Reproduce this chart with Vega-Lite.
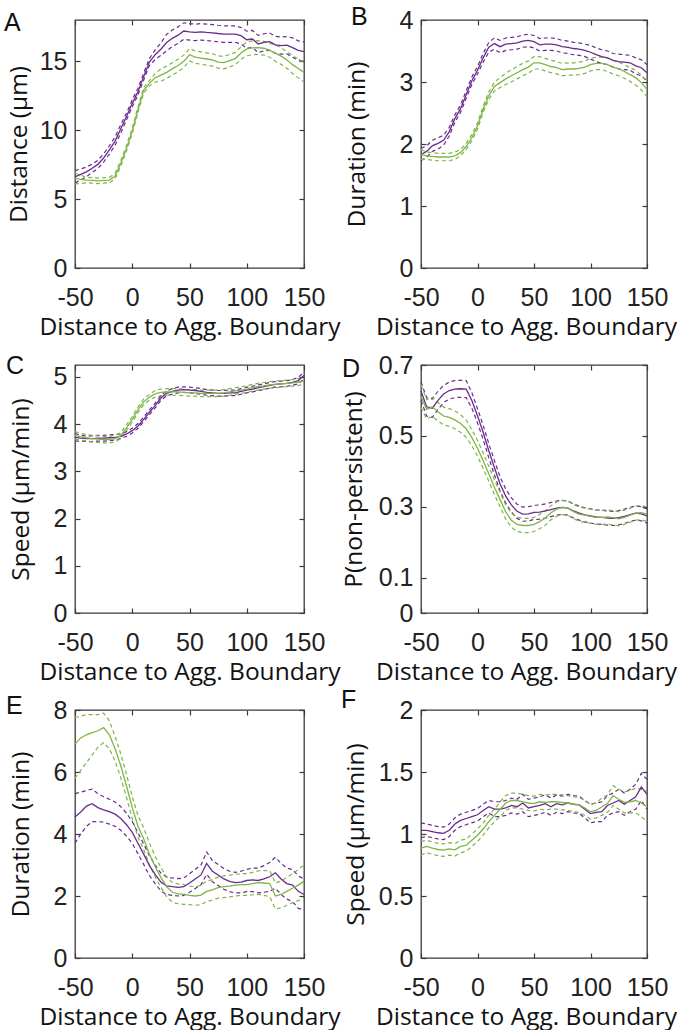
{
"$schema": "https://vega.github.io/schema/vega-lite/v6.json",
"background": "white",
"padding": {"left": 3, "top": 4, "right": 0, "bottom": 0},
"config": {
  "view": {"stroke": "#3a3a3a", "strokeWidth": 1.3},
  "axis": {"domain": false, "grid": false, "tickColor": "#3a3a3a", "tickSize": -5, "tickWidth": 1.2,
           "labelFont": "Liberation Sans", "labelFontSize": 25, "labelColor": "#222", "labelPadding": 13,
           "labelFlush": false, "labelOverlap": false,
           "titleFont": "Open Sans", "titleFontSize": 24.5, "titleFontWeight": "normal", "titleColor": "#111", "titlePadding": 10, "format": "~g"},
  "axisBottom": {"labelPadding": 22, "titlePadding": 5, "labelExpr": "'' + datum.value"},
  "title": {"font": "Liberation Sans", "fontSize": 25, "fontWeight": "normal", "anchor": "start", "frame": "group", "color": "#111", "baseline": "alphabetic"},
  "line": {"clip": true}
},
"datasets": {"d": [
{"p":"A","g":"P","x":-50,"m":6.62,"lo":6.17,"hi":7.07},
{"p":"A","g":"P","x":-45,"m":6.79,"lo":6.39,"hi":7.19},
{"p":"A","g":"P","x":-40,"m":6.98,"lo":6.63,"hi":7.33},
{"p":"A","g":"P","x":-35,"m":7.24,"lo":6.94,"hi":7.54},
{"p":"A","g":"P","x":-30,"m":7.52,"lo":7.22,"hi":7.82},
{"p":"A","g":"P","x":-25,"m":7.98,"lo":7.68,"hi":8.28},
{"p":"A","g":"P","x":-20,"m":8.57,"lo":8.27,"hi":8.87},
{"p":"A","g":"P","x":-15,"m":9.21,"lo":8.91,"hi":9.51},
{"p":"A","g":"P","x":-10,"m":10.1,"lo":9.8,"hi":10.4},
{"p":"A","g":"P","x":-5,"m":11.0,"lo":10.75,"hi":11.25},
{"p":"A","g":"P","x":0,"m":11.95,"lo":11.7,"hi":12.2},
{"p":"A","g":"P","x":5,"m":12.8,"lo":12.55,"hi":13.05},
{"p":"A","g":"P","x":10,"m":13.9,"lo":13.65,"hi":14.15},
{"p":"A","g":"P","x":15,"m":14.95,"lo":14.7,"hi":15.2},
{"p":"A","g":"P","x":20,"m":15.48,"lo":15.13,"hi":15.83},
{"p":"A","g":"P","x":25,"m":15.88,"lo":15.43,"hi":16.33},
{"p":"A","g":"P","x":30,"m":16.36,"lo":15.76,"hi":16.96},
{"p":"A","g":"P","x":35,"m":16.67,"lo":16.07,"hi":17.27},
{"p":"A","g":"P","x":40,"m":16.9,"lo":16.3,"hi":17.5},
{"p":"A","g":"P","x":45,"m":17.2,"lo":16.6,"hi":17.8},
{"p":"A","g":"P","x":50,"m":17.14,"lo":16.54,"hi":17.74},
{"p":"A","g":"P","x":55,"m":17.1,"lo":16.5,"hi":17.7},
{"p":"A","g":"P","x":60,"m":17.14,"lo":16.54,"hi":17.74},
{"p":"A","g":"P","x":65,"m":17.1,"lo":16.5,"hi":17.7},
{"p":"A","g":"P","x":70,"m":17.07,"lo":16.47,"hi":17.67},
{"p":"A","g":"P","x":75,"m":17.02,"lo":16.42,"hi":17.62},
{"p":"A","g":"P","x":80,"m":16.98,"lo":16.38,"hi":17.58},
{"p":"A","g":"P","x":85,"m":16.98,"lo":16.38,"hi":17.58},
{"p":"A","g":"P","x":90,"m":16.98,"lo":16.38,"hi":17.58},
{"p":"A","g":"P","x":95,"m":16.86,"lo":16.26,"hi":17.46},
{"p":"A","g":"P","x":100,"m":16.57,"lo":15.95,"hi":17.19},
{"p":"A","g":"P","x":105,"m":16.62,"lo":16.0,"hi":17.24},
{"p":"A","g":"P","x":110,"m":16.26,"lo":15.64,"hi":16.88},
{"p":"A","g":"P","x":115,"m":16.38,"lo":15.76,"hi":17.0},
{"p":"A","g":"P","x":120,"m":16.43,"lo":15.81,"hi":17.05},
{"p":"A","g":"P","x":125,"m":16.2,"lo":15.58,"hi":16.82},
{"p":"A","g":"P","x":130,"m":16.14,"lo":15.52,"hi":16.76},
{"p":"A","g":"P","x":135,"m":16.17,"lo":15.55,"hi":16.79},
{"p":"A","g":"P","x":140,"m":16.0,"lo":15.3,"hi":16.7},
{"p":"A","g":"P","x":145,"m":15.79,"lo":15.09,"hi":16.49},
{"p":"A","g":"P","x":150,"m":15.71,"lo":15.01,"hi":16.41},
{"p":"A","g":"G","x":-50,"m":6.5,"lo":6.1,"hi":6.9},
{"p":"A","g":"G","x":-45,"m":6.43,"lo":6.13,"hi":6.73},
{"p":"A","g":"G","x":-40,"m":6.38,"lo":6.18,"hi":6.58},
{"p":"A","g":"G","x":-35,"m":6.36,"lo":6.16,"hi":6.56},
{"p":"A","g":"G","x":-30,"m":6.33,"lo":6.13,"hi":6.53},
{"p":"A","g":"G","x":-25,"m":6.36,"lo":6.16,"hi":6.56},
{"p":"A","g":"G","x":-20,"m":6.38,"lo":6.18,"hi":6.58},
{"p":"A","g":"G","x":-15,"m":6.67,"lo":6.47,"hi":6.87},
{"p":"A","g":"G","x":-10,"m":7.6,"lo":7.4,"hi":7.8},
{"p":"A","g":"G","x":-5,"m":8.7,"lo":8.5,"hi":8.9},
{"p":"A","g":"G","x":0,"m":9.95,"lo":9.75,"hi":10.15},
{"p":"A","g":"G","x":5,"m":11.5,"lo":11.3,"hi":11.7},
{"p":"A","g":"G","x":10,"m":12.9,"lo":12.7,"hi":13.1},
{"p":"A","g":"G","x":15,"m":13.4,"lo":13.2,"hi":13.6},
{"p":"A","g":"G","x":20,"m":13.8,"lo":13.5,"hi":14.1},
{"p":"A","g":"G","x":25,"m":14.0,"lo":13.55,"hi":14.45},
{"p":"A","g":"G","x":30,"m":14.2,"lo":13.75,"hi":14.65},
{"p":"A","g":"G","x":35,"m":14.45,"lo":14.0,"hi":14.9},
{"p":"A","g":"G","x":40,"m":14.7,"lo":14.25,"hi":15.15},
{"p":"A","g":"G","x":45,"m":15.0,"lo":14.55,"hi":15.45},
{"p":"A","g":"G","x":50,"m":15.48,"lo":15.03,"hi":15.93},
{"p":"A","g":"G","x":55,"m":15.3,"lo":14.85,"hi":15.75},
{"p":"A","g":"G","x":60,"m":15.24,"lo":14.79,"hi":15.69},
{"p":"A","g":"G","x":65,"m":15.17,"lo":14.72,"hi":15.62},
{"p":"A","g":"G","x":70,"m":15.1,"lo":14.65,"hi":15.55},
{"p":"A","g":"G","x":75,"m":14.95,"lo":14.5,"hi":15.4},
{"p":"A","g":"G","x":80,"m":14.9,"lo":14.45,"hi":15.35},
{"p":"A","g":"G","x":85,"m":15.05,"lo":14.6,"hi":15.5},
{"p":"A","g":"G","x":90,"m":15.2,"lo":14.75,"hi":15.65},
{"p":"A","g":"G","x":95,"m":15.6,"lo":15.15,"hi":16.05},
{"p":"A","g":"G","x":100,"m":15.9,"lo":15.4,"hi":16.4},
{"p":"A","g":"G","x":105,"m":15.98,"lo":15.48,"hi":16.48},
{"p":"A","g":"G","x":110,"m":16.0,"lo":15.5,"hi":16.5},
{"p":"A","g":"G","x":115,"m":15.95,"lo":15.45,"hi":16.45},
{"p":"A","g":"G","x":120,"m":15.8,"lo":15.3,"hi":16.3},
{"p":"A","g":"G","x":125,"m":15.6,"lo":15.0,"hi":16.2},
{"p":"A","g":"G","x":130,"m":15.38,"lo":14.78,"hi":15.98},
{"p":"A","g":"G","x":135,"m":15.1,"lo":14.5,"hi":15.7},
{"p":"A","g":"G","x":140,"m":14.76,"lo":14.11,"hi":15.41},
{"p":"A","g":"G","x":145,"m":14.48,"lo":13.8,"hi":15.16},
{"p":"A","g":"G","x":150,"m":14.2,"lo":13.5,"hi":14.9},
{"p":"B","g":"P","x":-50,"m":1.83,"lo":1.73,"hi":1.93},
{"p":"B","g":"P","x":-45,"m":1.88,"lo":1.79,"hi":1.97},
{"p":"B","g":"P","x":-40,"m":1.97,"lo":1.88,"hi":2.06},
{"p":"B","g":"P","x":-35,"m":2.01,"lo":1.92,"hi":2.1},
{"p":"B","g":"P","x":-30,"m":2.06,"lo":1.98,"hi":2.14},
{"p":"B","g":"P","x":-25,"m":2.2,"lo":2.13,"hi":2.27},
{"p":"B","g":"P","x":-20,"m":2.41,"lo":2.35,"hi":2.47},
{"p":"B","g":"P","x":-15,"m":2.57,"lo":2.51,"hi":2.63},
{"p":"B","g":"P","x":-10,"m":2.8,"lo":2.74,"hi":2.86},
{"p":"B","g":"P","x":-5,"m":3.02,"lo":2.96,"hi":3.08},
{"p":"B","g":"P","x":0,"m":3.19,"lo":3.13,"hi":3.25},
{"p":"B","g":"P","x":5,"m":3.39,"lo":3.32,"hi":3.46},
{"p":"B","g":"P","x":10,"m":3.56,"lo":3.48,"hi":3.64},
{"p":"B","g":"P","x":15,"m":3.62,"lo":3.53,"hi":3.71},
{"p":"B","g":"P","x":20,"m":3.57,"lo":3.47,"hi":3.67},
{"p":"B","g":"P","x":25,"m":3.61,"lo":3.51,"hi":3.71},
{"p":"B","g":"P","x":30,"m":3.62,"lo":3.52,"hi":3.72},
{"p":"B","g":"P","x":35,"m":3.63,"lo":3.53,"hi":3.73},
{"p":"B","g":"P","x":40,"m":3.66,"lo":3.56,"hi":3.76},
{"p":"B","g":"P","x":45,"m":3.67,"lo":3.57,"hi":3.77},
{"p":"B","g":"P","x":50,"m":3.65,"lo":3.55,"hi":3.75},
{"p":"B","g":"P","x":55,"m":3.6,"lo":3.5,"hi":3.7},
{"p":"B","g":"P","x":60,"m":3.61,"lo":3.51,"hi":3.71},
{"p":"B","g":"P","x":65,"m":3.61,"lo":3.51,"hi":3.71},
{"p":"B","g":"P","x":70,"m":3.6,"lo":3.5,"hi":3.7},
{"p":"B","g":"P","x":75,"m":3.57,"lo":3.47,"hi":3.67},
{"p":"B","g":"P","x":80,"m":3.56,"lo":3.46,"hi":3.66},
{"p":"B","g":"P","x":85,"m":3.54,"lo":3.44,"hi":3.64},
{"p":"B","g":"P","x":90,"m":3.53,"lo":3.43,"hi":3.63},
{"p":"B","g":"P","x":95,"m":3.51,"lo":3.41,"hi":3.61},
{"p":"B","g":"P","x":100,"m":3.48,"lo":3.37,"hi":3.59},
{"p":"B","g":"P","x":105,"m":3.44,"lo":3.33,"hi":3.55},
{"p":"B","g":"P","x":110,"m":3.41,"lo":3.3,"hi":3.52},
{"p":"B","g":"P","x":115,"m":3.39,"lo":3.28,"hi":3.5},
{"p":"B","g":"P","x":120,"m":3.35,"lo":3.24,"hi":3.46},
{"p":"B","g":"P","x":125,"m":3.33,"lo":3.21,"hi":3.45},
{"p":"B","g":"P","x":130,"m":3.32,"lo":3.2,"hi":3.44},
{"p":"B","g":"P","x":135,"m":3.31,"lo":3.19,"hi":3.43},
{"p":"B","g":"P","x":140,"m":3.26,"lo":3.13,"hi":3.39},
{"p":"B","g":"P","x":145,"m":3.23,"lo":3.1,"hi":3.36},
{"p":"B","g":"P","x":150,"m":3.15,"lo":3.02,"hi":3.28},
{"p":"B","g":"G","x":-50,"m":1.83,"lo":1.75,"hi":1.91},
{"p":"B","g":"G","x":-45,"m":1.81,"lo":1.75,"hi":1.87},
{"p":"B","g":"G","x":-40,"m":1.8,"lo":1.74,"hi":1.86},
{"p":"B","g":"G","x":-35,"m":1.79,"lo":1.73,"hi":1.85},
{"p":"B","g":"G","x":-30,"m":1.79,"lo":1.73,"hi":1.85},
{"p":"B","g":"G","x":-25,"m":1.79,"lo":1.73,"hi":1.85},
{"p":"B","g":"G","x":-20,"m":1.81,"lo":1.75,"hi":1.87},
{"p":"B","g":"G","x":-15,"m":1.86,"lo":1.81,"hi":1.91},
{"p":"B","g":"G","x":-10,"m":1.96,"lo":1.91,"hi":2.01},
{"p":"B","g":"G","x":-5,"m":2.1,"lo":2.05,"hi":2.15},
{"p":"B","g":"G","x":0,"m":2.29,"lo":2.24,"hi":2.34},
{"p":"B","g":"G","x":5,"m":2.56,"lo":2.51,"hi":2.61},
{"p":"B","g":"G","x":10,"m":2.78,"lo":2.72,"hi":2.84},
{"p":"B","g":"G","x":15,"m":2.93,"lo":2.86,"hi":3.0},
{"p":"B","g":"G","x":20,"m":2.99,"lo":2.91,"hi":3.07},
{"p":"B","g":"G","x":25,"m":3.05,"lo":2.96,"hi":3.14},
{"p":"B","g":"G","x":30,"m":3.1,"lo":3.0,"hi":3.2},
{"p":"B","g":"G","x":35,"m":3.15,"lo":3.05,"hi":3.25},
{"p":"B","g":"G","x":40,"m":3.2,"lo":3.1,"hi":3.3},
{"p":"B","g":"G","x":45,"m":3.24,"lo":3.14,"hi":3.34},
{"p":"B","g":"G","x":50,"m":3.31,"lo":3.21,"hi":3.41},
{"p":"B","g":"G","x":55,"m":3.31,"lo":3.21,"hi":3.41},
{"p":"B","g":"G","x":60,"m":3.28,"lo":3.18,"hi":3.38},
{"p":"B","g":"G","x":65,"m":3.25,"lo":3.15,"hi":3.35},
{"p":"B","g":"G","x":70,"m":3.23,"lo":3.13,"hi":3.33},
{"p":"B","g":"G","x":75,"m":3.2,"lo":3.1,"hi":3.3},
{"p":"B","g":"G","x":80,"m":3.21,"lo":3.11,"hi":3.31},
{"p":"B","g":"G","x":85,"m":3.21,"lo":3.11,"hi":3.31},
{"p":"B","g":"G","x":90,"m":3.22,"lo":3.12,"hi":3.32},
{"p":"B","g":"G","x":95,"m":3.24,"lo":3.14,"hi":3.34},
{"p":"B","g":"G","x":100,"m":3.28,"lo":3.18,"hi":3.38},
{"p":"B","g":"G","x":105,"m":3.3,"lo":3.2,"hi":3.4},
{"p":"B","g":"G","x":110,"m":3.3,"lo":3.2,"hi":3.4},
{"p":"B","g":"G","x":115,"m":3.28,"lo":3.17,"hi":3.39},
{"p":"B","g":"G","x":120,"m":3.24,"lo":3.13,"hi":3.35},
{"p":"B","g":"G","x":125,"m":3.21,"lo":3.1,"hi":3.32},
{"p":"B","g":"G","x":130,"m":3.17,"lo":3.06,"hi":3.28},
{"p":"B","g":"G","x":135,"m":3.12,"lo":3.01,"hi":3.23},
{"p":"B","g":"G","x":140,"m":3.07,"lo":2.95,"hi":3.19},
{"p":"B","g":"G","x":145,"m":2.99,"lo":2.87,"hi":3.11},
{"p":"B","g":"G","x":150,"m":2.88,"lo":2.76,"hi":3.0},
{"p":"C","g":"P","x":-50,"m":3.72,"lo":3.64,"hi":3.8},
{"p":"C","g":"P","x":-45,"m":3.7,"lo":3.64,"hi":3.76},
{"p":"C","g":"P","x":-40,"m":3.69,"lo":3.63,"hi":3.75},
{"p":"C","g":"P","x":-35,"m":3.69,"lo":3.63,"hi":3.75},
{"p":"C","g":"P","x":-30,"m":3.7,"lo":3.64,"hi":3.76},
{"p":"C","g":"P","x":-25,"m":3.7,"lo":3.64,"hi":3.76},
{"p":"C","g":"P","x":-20,"m":3.71,"lo":3.65,"hi":3.77},
{"p":"C","g":"P","x":-15,"m":3.72,"lo":3.66,"hi":3.78},
{"p":"C","g":"P","x":-10,"m":3.74,"lo":3.69,"hi":3.79},
{"p":"C","g":"P","x":-5,"m":3.79,"lo":3.74,"hi":3.84},
{"p":"C","g":"P","x":0,"m":3.86,"lo":3.81,"hi":3.91},
{"p":"C","g":"P","x":5,"m":3.96,"lo":3.91,"hi":4.01},
{"p":"C","g":"P","x":10,"m":4.1,"lo":4.05,"hi":4.15},
{"p":"C","g":"P","x":15,"m":4.25,"lo":4.2,"hi":4.3},
{"p":"C","g":"P","x":20,"m":4.39,"lo":4.34,"hi":4.44},
{"p":"C","g":"P","x":25,"m":4.55,"lo":4.5,"hi":4.6},
{"p":"C","g":"P","x":30,"m":4.65,"lo":4.6,"hi":4.7},
{"p":"C","g":"P","x":35,"m":4.69,"lo":4.63,"hi":4.75},
{"p":"C","g":"P","x":40,"m":4.72,"lo":4.66,"hi":4.78},
{"p":"C","g":"P","x":45,"m":4.73,"lo":4.67,"hi":4.79},
{"p":"C","g":"P","x":50,"m":4.72,"lo":4.66,"hi":4.78},
{"p":"C","g":"P","x":55,"m":4.71,"lo":4.65,"hi":4.77},
{"p":"C","g":"P","x":60,"m":4.69,"lo":4.63,"hi":4.75},
{"p":"C","g":"P","x":65,"m":4.67,"lo":4.61,"hi":4.73},
{"p":"C","g":"P","x":70,"m":4.66,"lo":4.6,"hi":4.72},
{"p":"C","g":"P","x":75,"m":4.65,"lo":4.59,"hi":4.71},
{"p":"C","g":"P","x":80,"m":4.65,"lo":4.59,"hi":4.71},
{"p":"C","g":"P","x":85,"m":4.66,"lo":4.6,"hi":4.72},
{"p":"C","g":"P","x":90,"m":4.66,"lo":4.6,"hi":4.72},
{"p":"C","g":"P","x":95,"m":4.69,"lo":4.63,"hi":4.75},
{"p":"C","g":"P","x":100,"m":4.72,"lo":4.66,"hi":4.78},
{"p":"C","g":"P","x":105,"m":4.74,"lo":4.68,"hi":4.8},
{"p":"C","g":"P","x":110,"m":4.77,"lo":4.71,"hi":4.83},
{"p":"C","g":"P","x":115,"m":4.79,"lo":4.73,"hi":4.85},
{"p":"C","g":"P","x":120,"m":4.82,"lo":4.76,"hi":4.88},
{"p":"C","g":"P","x":125,"m":4.84,"lo":4.78,"hi":4.9},
{"p":"C","g":"P","x":130,"m":4.85,"lo":4.79,"hi":4.91},
{"p":"C","g":"P","x":135,"m":4.86,"lo":4.8,"hi":4.92},
{"p":"C","g":"P","x":140,"m":4.88,"lo":4.82,"hi":4.94},
{"p":"C","g":"P","x":145,"m":4.92,"lo":4.85,"hi":4.99},
{"p":"C","g":"P","x":150,"m":5.03,"lo":4.96,"hi":5.1},
{"p":"C","g":"G","x":-50,"m":3.76,"lo":3.68,"hi":3.84},
{"p":"C","g":"G","x":-45,"m":3.73,"lo":3.66,"hi":3.8},
{"p":"C","g":"G","x":-40,"m":3.71,"lo":3.64,"hi":3.78},
{"p":"C","g":"G","x":-35,"m":3.69,"lo":3.62,"hi":3.76},
{"p":"C","g":"G","x":-30,"m":3.68,"lo":3.61,"hi":3.75},
{"p":"C","g":"G","x":-25,"m":3.67,"lo":3.6,"hi":3.74},
{"p":"C","g":"G","x":-20,"m":3.67,"lo":3.6,"hi":3.74},
{"p":"C","g":"G","x":-15,"m":3.69,"lo":3.62,"hi":3.76},
{"p":"C","g":"G","x":-10,"m":3.76,"lo":3.7,"hi":3.82},
{"p":"C","g":"G","x":-5,"m":3.92,"lo":3.86,"hi":3.98},
{"p":"C","g":"G","x":0,"m":4.1,"lo":4.04,"hi":4.16},
{"p":"C","g":"G","x":5,"m":4.3,"lo":4.24,"hi":4.36},
{"p":"C","g":"G","x":10,"m":4.47,"lo":4.41,"hi":4.53},
{"p":"C","g":"G","x":15,"m":4.57,"lo":4.51,"hi":4.63},
{"p":"C","g":"G","x":20,"m":4.64,"lo":4.57,"hi":4.71},
{"p":"C","g":"G","x":25,"m":4.67,"lo":4.6,"hi":4.74},
{"p":"C","g":"G","x":30,"m":4.68,"lo":4.61,"hi":4.75},
{"p":"C","g":"G","x":35,"m":4.68,"lo":4.61,"hi":4.75},
{"p":"C","g":"G","x":40,"m":4.68,"lo":4.61,"hi":4.75},
{"p":"C","g":"G","x":45,"m":4.67,"lo":4.6,"hi":4.74},
{"p":"C","g":"G","x":50,"m":4.66,"lo":4.59,"hi":4.73},
{"p":"C","g":"G","x":55,"m":4.66,"lo":4.59,"hi":4.73},
{"p":"C","g":"G","x":60,"m":4.65,"lo":4.58,"hi":4.72},
{"p":"C","g":"G","x":65,"m":4.65,"lo":4.58,"hi":4.72},
{"p":"C","g":"G","x":70,"m":4.65,"lo":4.58,"hi":4.72},
{"p":"C","g":"G","x":75,"m":4.65,"lo":4.58,"hi":4.72},
{"p":"C","g":"G","x":80,"m":4.66,"lo":4.59,"hi":4.73},
{"p":"C","g":"G","x":85,"m":4.68,"lo":4.61,"hi":4.75},
{"p":"C","g":"G","x":90,"m":4.7,"lo":4.63,"hi":4.77},
{"p":"C","g":"G","x":95,"m":4.72,"lo":4.65,"hi":4.79},
{"p":"C","g":"G","x":100,"m":4.74,"lo":4.67,"hi":4.81},
{"p":"C","g":"G","x":105,"m":4.77,"lo":4.7,"hi":4.84},
{"p":"C","g":"G","x":110,"m":4.79,"lo":4.72,"hi":4.86},
{"p":"C","g":"G","x":115,"m":4.81,"lo":4.74,"hi":4.88},
{"p":"C","g":"G","x":120,"m":4.83,"lo":4.76,"hi":4.9},
{"p":"C","g":"G","x":125,"m":4.84,"lo":4.77,"hi":4.91},
{"p":"C","g":"G","x":130,"m":4.85,"lo":4.78,"hi":4.92},
{"p":"C","g":"G","x":135,"m":4.86,"lo":4.79,"hi":4.93},
{"p":"C","g":"G","x":140,"m":4.87,"lo":4.8,"hi":4.94},
{"p":"C","g":"G","x":145,"m":4.89,"lo":4.82,"hi":4.96},
{"p":"C","g":"G","x":150,"m":4.91,"lo":4.84,"hi":4.98},
{"p":"D","g":"P","x":-50,"m":0.626,"lo":0.6,"hi":0.652},
{"p":"D","g":"P","x":-45,"m":0.582,"lo":0.556,"hi":0.608},
{"p":"D","g":"P","x":-40,"m":0.578,"lo":0.552,"hi":0.604},
{"p":"D","g":"P","x":-35,"m":0.6,"lo":0.574,"hi":0.626},
{"p":"D","g":"P","x":-30,"m":0.618,"lo":0.594,"hi":0.642},
{"p":"D","g":"P","x":-25,"m":0.628,"lo":0.604,"hi":0.652},
{"p":"D","g":"P","x":-20,"m":0.632,"lo":0.608,"hi":0.656},
{"p":"D","g":"P","x":-15,"m":0.633,"lo":0.609,"hi":0.657},
{"p":"D","g":"P","x":-10,"m":0.632,"lo":0.608,"hi":0.656},
{"p":"D","g":"P","x":-5,"m":0.6,"lo":0.578,"hi":0.622},
{"p":"D","g":"P","x":0,"m":0.557,"lo":0.537,"hi":0.577},
{"p":"D","g":"P","x":5,"m":0.51,"lo":0.49,"hi":0.53},
{"p":"D","g":"P","x":10,"m":0.458,"lo":0.438,"hi":0.478},
{"p":"D","g":"P","x":15,"m":0.41,"lo":0.39,"hi":0.43},
{"p":"D","g":"P","x":20,"m":0.364,"lo":0.344,"hi":0.384},
{"p":"D","g":"P","x":25,"m":0.33,"lo":0.31,"hi":0.35},
{"p":"D","g":"P","x":30,"m":0.305,"lo":0.285,"hi":0.325},
{"p":"D","g":"P","x":35,"m":0.287,"lo":0.267,"hi":0.307},
{"p":"D","g":"P","x":40,"m":0.279,"lo":0.259,"hi":0.299},
{"p":"D","g":"P","x":45,"m":0.28,"lo":0.26,"hi":0.3},
{"p":"D","g":"P","x":50,"m":0.284,"lo":0.264,"hi":0.304},
{"p":"D","g":"P","x":55,"m":0.285,"lo":0.265,"hi":0.305},
{"p":"D","g":"P","x":60,"m":0.288,"lo":0.268,"hi":0.308},
{"p":"D","g":"P","x":65,"m":0.292,"lo":0.272,"hi":0.312},
{"p":"D","g":"P","x":70,"m":0.296,"lo":0.276,"hi":0.316},
{"p":"D","g":"P","x":75,"m":0.298,"lo":0.278,"hi":0.318},
{"p":"D","g":"P","x":80,"m":0.296,"lo":0.276,"hi":0.316},
{"p":"D","g":"P","x":85,"m":0.288,"lo":0.268,"hi":0.308},
{"p":"D","g":"P","x":90,"m":0.282,"lo":0.262,"hi":0.302},
{"p":"D","g":"P","x":95,"m":0.277,"lo":0.257,"hi":0.297},
{"p":"D","g":"P","x":100,"m":0.274,"lo":0.254,"hi":0.294},
{"p":"D","g":"P","x":105,"m":0.271,"lo":0.251,"hi":0.291},
{"p":"D","g":"P","x":110,"m":0.27,"lo":0.25,"hi":0.29},
{"p":"D","g":"P","x":115,"m":0.268,"lo":0.248,"hi":0.288},
{"p":"D","g":"P","x":120,"m":0.267,"lo":0.247,"hi":0.287},
{"p":"D","g":"P","x":125,"m":0.269,"lo":0.249,"hi":0.289},
{"p":"D","g":"P","x":130,"m":0.273,"lo":0.253,"hi":0.293},
{"p":"D","g":"P","x":135,"m":0.278,"lo":0.258,"hi":0.298},
{"p":"D","g":"P","x":140,"m":0.282,"lo":0.262,"hi":0.302},
{"p":"D","g":"P","x":145,"m":0.28,"lo":0.26,"hi":0.3},
{"p":"D","g":"P","x":150,"m":0.274,"lo":0.254,"hi":0.294},
{"p":"D","g":"G","x":-50,"m":0.612,"lo":0.58,"hi":0.644},
{"p":"D","g":"G","x":-45,"m":0.575,"lo":0.548,"hi":0.602},
{"p":"D","g":"G","x":-40,"m":0.582,"lo":0.555,"hi":0.609},
{"p":"D","g":"G","x":-35,"m":0.568,"lo":0.542,"hi":0.594},
{"p":"D","g":"G","x":-30,"m":0.556,"lo":0.531,"hi":0.581},
{"p":"D","g":"G","x":-25,"m":0.552,"lo":0.527,"hi":0.577},
{"p":"D","g":"G","x":-20,"m":0.545,"lo":0.52,"hi":0.57},
{"p":"D","g":"G","x":-15,"m":0.535,"lo":0.51,"hi":0.56},
{"p":"D","g":"G","x":-10,"m":0.52,"lo":0.496,"hi":0.544},
{"p":"D","g":"G","x":-5,"m":0.495,"lo":0.472,"hi":0.518},
{"p":"D","g":"G","x":0,"m":0.465,"lo":0.443,"hi":0.487},
{"p":"D","g":"G","x":5,"m":0.43,"lo":0.408,"hi":0.452},
{"p":"D","g":"G","x":10,"m":0.393,"lo":0.372,"hi":0.414},
{"p":"D","g":"G","x":15,"m":0.355,"lo":0.334,"hi":0.376},
{"p":"D","g":"G","x":20,"m":0.32,"lo":0.3,"hi":0.34},
{"p":"D","g":"G","x":25,"m":0.285,"lo":0.265,"hi":0.305},
{"p":"D","g":"G","x":30,"m":0.262,"lo":0.242,"hi":0.282},
{"p":"D","g":"G","x":35,"m":0.25,"lo":0.23,"hi":0.27},
{"p":"D","g":"G","x":40,"m":0.247,"lo":0.227,"hi":0.267},
{"p":"D","g":"G","x":45,"m":0.247,"lo":0.227,"hi":0.267},
{"p":"D","g":"G","x":50,"m":0.25,"lo":0.23,"hi":0.27},
{"p":"D","g":"G","x":55,"m":0.258,"lo":0.238,"hi":0.278},
{"p":"D","g":"G","x":60,"m":0.268,"lo":0.248,"hi":0.288},
{"p":"D","g":"G","x":65,"m":0.283,"lo":0.263,"hi":0.303},
{"p":"D","g":"G","x":70,"m":0.293,"lo":0.273,"hi":0.313},
{"p":"D","g":"G","x":75,"m":0.298,"lo":0.278,"hi":0.318},
{"p":"D","g":"G","x":80,"m":0.296,"lo":0.276,"hi":0.316},
{"p":"D","g":"G","x":85,"m":0.286,"lo":0.266,"hi":0.306},
{"p":"D","g":"G","x":90,"m":0.279,"lo":0.259,"hi":0.299},
{"p":"D","g":"G","x":95,"m":0.276,"lo":0.256,"hi":0.296},
{"p":"D","g":"G","x":100,"m":0.273,"lo":0.253,"hi":0.293},
{"p":"D","g":"G","x":105,"m":0.27,"lo":0.25,"hi":0.29},
{"p":"D","g":"G","x":110,"m":0.27,"lo":0.25,"hi":0.29},
{"p":"D","g":"G","x":115,"m":0.271,"lo":0.251,"hi":0.291},
{"p":"D","g":"G","x":120,"m":0.269,"lo":0.249,"hi":0.289},
{"p":"D","g":"G","x":125,"m":0.266,"lo":0.246,"hi":0.286},
{"p":"D","g":"G","x":130,"m":0.27,"lo":0.25,"hi":0.29},
{"p":"D","g":"G","x":135,"m":0.276,"lo":0.256,"hi":0.296},
{"p":"D","g":"G","x":140,"m":0.282,"lo":0.262,"hi":0.302},
{"p":"D","g":"G","x":145,"m":0.283,"lo":0.263,"hi":0.303},
{"p":"D","g":"G","x":150,"m":0.279,"lo":0.259,"hi":0.299},
{"p":"E","g":"P","x":-50,"m":4.55,"lo":3.7,"hi":5.3},
{"p":"E","g":"P","x":-45,"m":4.71,"lo":4.0,"hi":5.35},
{"p":"E","g":"P","x":-40,"m":4.9,"lo":4.25,"hi":5.4},
{"p":"E","g":"P","x":-35,"m":4.98,"lo":4.4,"hi":5.45},
{"p":"E","g":"P","x":-30,"m":4.85,"lo":4.4,"hi":5.3},
{"p":"E","g":"P","x":-25,"m":4.78,"lo":4.38,"hi":5.2},
{"p":"E","g":"P","x":-20,"m":4.72,"lo":4.32,"hi":5.12},
{"p":"E","g":"P","x":-15,"m":4.64,"lo":4.25,"hi":5.03},
{"p":"E","g":"P","x":-10,"m":4.5,"lo":4.12,"hi":4.88},
{"p":"E","g":"P","x":-5,"m":4.3,"lo":3.93,"hi":4.67},
{"p":"E","g":"P","x":0,"m":4.05,"lo":3.7,"hi":4.4},
{"p":"E","g":"P","x":5,"m":3.7,"lo":3.36,"hi":4.04},
{"p":"E","g":"P","x":10,"m":3.35,"lo":3.02,"hi":3.68},
{"p":"E","g":"P","x":15,"m":2.98,"lo":2.66,"hi":3.3},
{"p":"E","g":"P","x":20,"m":2.7,"lo":2.4,"hi":3.0},
{"p":"E","g":"P","x":25,"m":2.45,"lo":2.16,"hi":2.74},
{"p":"E","g":"P","x":30,"m":2.33,"lo":2.05,"hi":2.61},
{"p":"E","g":"P","x":35,"m":2.3,"lo":2.02,"hi":2.58},
{"p":"E","g":"P","x":40,"m":2.28,"lo":2.0,"hi":2.56},
{"p":"E","g":"P","x":45,"m":2.3,"lo":2.02,"hi":2.58},
{"p":"E","g":"P","x":50,"m":2.42,"lo":2.12,"hi":2.72},
{"p":"E","g":"P","x":55,"m":2.55,"lo":2.24,"hi":2.86},
{"p":"E","g":"P","x":60,"m":2.68,"lo":2.36,"hi":3.0},
{"p":"E","g":"P","x":65,"m":3.05,"lo":2.7,"hi":3.42},
{"p":"E","g":"P","x":70,"m":2.8,"lo":2.46,"hi":3.14},
{"p":"E","g":"P","x":75,"m":2.68,"lo":2.34,"hi":3.02},
{"p":"E","g":"P","x":80,"m":2.55,"lo":2.22,"hi":2.88},
{"p":"E","g":"P","x":85,"m":2.47,"lo":2.14,"hi":2.8},
{"p":"E","g":"P","x":90,"m":2.43,"lo":2.1,"hi":2.76},
{"p":"E","g":"P","x":95,"m":2.45,"lo":2.1,"hi":2.8},
{"p":"E","g":"P","x":100,"m":2.5,"lo":2.14,"hi":2.86},
{"p":"E","g":"P","x":105,"m":2.52,"lo":2.14,"hi":2.9},
{"p":"E","g":"P","x":110,"m":2.5,"lo":2.1,"hi":2.9},
{"p":"E","g":"P","x":115,"m":2.55,"lo":2.12,"hi":2.98},
{"p":"E","g":"P","x":120,"m":2.62,"lo":2.15,"hi":3.08},
{"p":"E","g":"P","x":125,"m":2.75,"lo":2.25,"hi":3.25},
{"p":"E","g":"P","x":130,"m":2.55,"lo":2.05,"hi":3.05},
{"p":"E","g":"P","x":135,"m":2.4,"lo":1.9,"hi":2.9},
{"p":"E","g":"P","x":140,"m":2.35,"lo":1.82,"hi":2.85},
{"p":"E","g":"P","x":145,"m":2.15,"lo":1.6,"hi":2.65},
{"p":"E","g":"P","x":150,"m":2.05,"lo":1.55,"hi":2.55},
{"p":"E","g":"G","x":-50,"m":6.9,"lo":5.8,"hi":7.75},
{"p":"E","g":"G","x":-45,"m":7.1,"lo":6.05,"hi":7.8},
{"p":"E","g":"G","x":-40,"m":7.2,"lo":6.3,"hi":7.85},
{"p":"E","g":"G","x":-35,"m":7.27,"lo":6.55,"hi":7.85},
{"p":"E","g":"G","x":-30,"m":7.33,"lo":6.8,"hi":7.85},
{"p":"E","g":"G","x":-25,"m":7.43,"lo":6.95,"hi":7.9},
{"p":"E","g":"G","x":-20,"m":7.2,"lo":6.75,"hi":7.65},
{"p":"E","g":"G","x":-15,"m":6.75,"lo":6.35,"hi":7.15},
{"p":"E","g":"G","x":-10,"m":6.2,"lo":5.82,"hi":6.58},
{"p":"E","g":"G","x":-5,"m":5.55,"lo":5.18,"hi":5.92},
{"p":"E","g":"G","x":0,"m":4.85,"lo":4.5,"hi":5.2},
{"p":"E","g":"G","x":5,"m":4.25,"lo":3.9,"hi":4.6},
{"p":"E","g":"G","x":10,"m":3.85,"lo":3.5,"hi":4.2},
{"p":"E","g":"G","x":15,"m":3.35,"lo":3.0,"hi":3.7},
{"p":"E","g":"G","x":20,"m":2.95,"lo":2.62,"hi":3.28},
{"p":"E","g":"G","x":25,"m":2.6,"lo":2.28,"hi":2.92},
{"p":"E","g":"G","x":30,"m":2.3,"lo":1.98,"hi":2.62},
{"p":"E","g":"G","x":35,"m":2.12,"lo":1.8,"hi":2.44},
{"p":"E","g":"G","x":40,"m":2.07,"lo":1.75,"hi":2.39},
{"p":"E","g":"G","x":45,"m":2.05,"lo":1.73,"hi":2.37},
{"p":"E","g":"G","x":50,"m":2.02,"lo":1.72,"hi":2.32},
{"p":"E","g":"G","x":55,"m":2.0,"lo":1.7,"hi":2.3},
{"p":"E","g":"G","x":60,"m":2.03,"lo":1.72,"hi":2.34},
{"p":"E","g":"G","x":65,"m":2.15,"lo":1.82,"hi":2.48},
{"p":"E","g":"G","x":70,"m":2.2,"lo":1.87,"hi":2.53},
{"p":"E","g":"G","x":75,"m":2.27,"lo":1.93,"hi":2.61},
{"p":"E","g":"G","x":80,"m":2.3,"lo":1.95,"hi":2.65},
{"p":"E","g":"G","x":85,"m":2.32,"lo":1.97,"hi":2.67},
{"p":"E","g":"G","x":90,"m":2.35,"lo":2.0,"hi":2.7},
{"p":"E","g":"G","x":95,"m":2.37,"lo":2.02,"hi":2.72},
{"p":"E","g":"G","x":100,"m":2.37,"lo":2.02,"hi":2.72},
{"p":"E","g":"G","x":105,"m":2.4,"lo":2.04,"hi":2.76},
{"p":"E","g":"G","x":110,"m":2.43,"lo":2.05,"hi":2.81},
{"p":"E","g":"G","x":115,"m":2.42,"lo":2.02,"hi":2.82},
{"p":"E","g":"G","x":120,"m":2.4,"lo":1.98,"hi":2.82},
{"p":"E","g":"G","x":125,"m":2.0,"lo":1.58,"hi":2.42},
{"p":"E","g":"G","x":130,"m":2.05,"lo":1.62,"hi":2.48},
{"p":"E","g":"G","x":135,"m":2.15,"lo":1.7,"hi":2.6},
{"p":"E","g":"G","x":140,"m":2.25,"lo":1.78,"hi":2.72},
{"p":"E","g":"G","x":145,"m":2.35,"lo":1.85,"hi":2.85},
{"p":"E","g":"G","x":150,"m":2.48,"lo":1.95,"hi":3.0},
{"p":"F","g":"P","x":-50,"m":1.03,"lo":0.97,"hi":1.09},
{"p":"F","g":"P","x":-45,"m":1.03,"lo":0.98,"hi":1.08},
{"p":"F","g":"P","x":-40,"m":1.02,"lo":0.97,"hi":1.07},
{"p":"F","g":"P","x":-35,"m":1.01,"lo":0.96,"hi":1.06},
{"p":"F","g":"P","x":-30,"m":1.005,"lo":0.955,"hi":1.055},
{"p":"F","g":"P","x":-25,"m":1.03,"lo":0.98,"hi":1.08},
{"p":"F","g":"P","x":-20,"m":1.08,"lo":1.03,"hi":1.13},
{"p":"F","g":"P","x":-15,"m":1.11,"lo":1.06,"hi":1.16},
{"p":"F","g":"P","x":-10,"m":1.125,"lo":1.075,"hi":1.175},
{"p":"F","g":"P","x":-5,"m":1.14,"lo":1.09,"hi":1.19},
{"p":"F","g":"P","x":0,"m":1.155,"lo":1.105,"hi":1.205},
{"p":"F","g":"P","x":5,"m":1.19,"lo":1.14,"hi":1.24},
{"p":"F","g":"P","x":10,"m":1.22,"lo":1.17,"hi":1.27},
{"p":"F","g":"P","x":15,"m":1.2,"lo":1.14,"hi":1.26},
{"p":"F","g":"P","x":20,"m":1.2,"lo":1.14,"hi":1.26},
{"p":"F","g":"P","x":25,"m":1.21,"lo":1.15,"hi":1.27},
{"p":"F","g":"P","x":30,"m":1.23,"lo":1.17,"hi":1.29},
{"p":"F","g":"P","x":35,"m":1.22,"lo":1.16,"hi":1.28},
{"p":"F","g":"P","x":40,"m":1.25,"lo":1.18,"hi":1.32},
{"p":"F","g":"P","x":45,"m":1.21,"lo":1.14,"hi":1.28},
{"p":"F","g":"P","x":50,"m":1.22,"lo":1.15,"hi":1.29},
{"p":"F","g":"P","x":55,"m":1.23,"lo":1.16,"hi":1.3},
{"p":"F","g":"P","x":60,"m":1.245,"lo":1.175,"hi":1.315},
{"p":"F","g":"P","x":65,"m":1.22,"lo":1.15,"hi":1.29},
{"p":"F","g":"P","x":70,"m":1.245,"lo":1.175,"hi":1.315},
{"p":"F","g":"P","x":75,"m":1.235,"lo":1.165,"hi":1.305},
{"p":"F","g":"P","x":80,"m":1.25,"lo":1.18,"hi":1.32},
{"p":"F","g":"P","x":85,"m":1.24,"lo":1.17,"hi":1.31},
{"p":"F","g":"P","x":90,"m":1.235,"lo":1.165,"hi":1.305},
{"p":"F","g":"P","x":95,"m":1.2,"lo":1.13,"hi":1.27},
{"p":"F","g":"P","x":100,"m":1.165,"lo":1.09,"hi":1.24},
{"p":"F","g":"P","x":105,"m":1.175,"lo":1.1,"hi":1.25},
{"p":"F","g":"P","x":110,"m":1.18,"lo":1.1,"hi":1.26},
{"p":"F","g":"P","x":115,"m":1.23,"lo":1.15,"hi":1.31},
{"p":"F","g":"P","x":120,"m":1.25,"lo":1.17,"hi":1.33},
{"p":"F","g":"P","x":125,"m":1.27,"lo":1.18,"hi":1.36},
{"p":"F","g":"P","x":130,"m":1.24,"lo":1.15,"hi":1.33},
{"p":"F","g":"P","x":135,"m":1.27,"lo":1.18,"hi":1.36},
{"p":"F","g":"P","x":140,"m":1.3,"lo":1.2,"hi":1.4},
{"p":"F","g":"P","x":145,"m":1.38,"lo":1.27,"hi":1.49},
{"p":"F","g":"P","x":150,"m":1.32,"lo":1.2,"hi":1.44},
{"p":"F","g":"G","x":-50,"m":0.886,"lo":0.83,"hi":0.94},
{"p":"F","g":"G","x":-45,"m":0.9,"lo":0.85,"hi":0.95},
{"p":"F","g":"G","x":-40,"m":0.886,"lo":0.836,"hi":0.936},
{"p":"F","g":"G","x":-35,"m":0.875,"lo":0.825,"hi":0.925},
{"p":"F","g":"G","x":-30,"m":0.87,"lo":0.82,"hi":0.92},
{"p":"F","g":"G","x":-25,"m":0.88,"lo":0.83,"hi":0.93},
{"p":"F","g":"G","x":-20,"m":0.872,"lo":0.822,"hi":0.922},
{"p":"F","g":"G","x":-15,"m":0.9,"lo":0.85,"hi":0.95},
{"p":"F","g":"G","x":-10,"m":0.91,"lo":0.86,"hi":0.96},
{"p":"F","g":"G","x":-5,"m":0.95,"lo":0.9,"hi":1.0},
{"p":"F","g":"G","x":0,"m":0.99,"lo":0.94,"hi":1.04},
{"p":"F","g":"G","x":5,"m":1.04,"lo":0.99,"hi":1.09},
{"p":"F","g":"G","x":10,"m":1.1,"lo":1.05,"hi":1.15},
{"p":"F","g":"G","x":15,"m":1.15,"lo":1.1,"hi":1.2},
{"p":"F","g":"G","x":20,"m":1.2,"lo":1.14,"hi":1.26},
{"p":"F","g":"G","x":25,"m":1.25,"lo":1.19,"hi":1.31},
{"p":"F","g":"G","x":30,"m":1.27,"lo":1.21,"hi":1.33},
{"p":"F","g":"G","x":35,"m":1.27,"lo":1.21,"hi":1.33},
{"p":"F","g":"G","x":40,"m":1.26,"lo":1.2,"hi":1.32},
{"p":"F","g":"G","x":45,"m":1.25,"lo":1.19,"hi":1.31},
{"p":"F","g":"G","x":50,"m":1.245,"lo":1.185,"hi":1.305},
{"p":"F","g":"G","x":55,"m":1.26,"lo":1.2,"hi":1.32},
{"p":"F","g":"G","x":60,"m":1.255,"lo":1.195,"hi":1.315},
{"p":"F","g":"G","x":65,"m":1.26,"lo":1.2,"hi":1.32},
{"p":"F","g":"G","x":70,"m":1.26,"lo":1.2,"hi":1.32},
{"p":"F","g":"G","x":75,"m":1.255,"lo":1.195,"hi":1.315},
{"p":"F","g":"G","x":80,"m":1.25,"lo":1.19,"hi":1.31},
{"p":"F","g":"G","x":85,"m":1.24,"lo":1.18,"hi":1.3},
{"p":"F","g":"G","x":90,"m":1.235,"lo":1.175,"hi":1.295},
{"p":"F","g":"G","x":95,"m":1.21,"lo":1.15,"hi":1.27},
{"p":"F","g":"G","x":100,"m":1.18,"lo":1.12,"hi":1.24},
{"p":"F","g":"G","x":105,"m":1.19,"lo":1.13,"hi":1.25},
{"p":"F","g":"G","x":110,"m":1.22,"lo":1.15,"hi":1.29},
{"p":"F","g":"G","x":115,"m":1.245,"lo":1.175,"hi":1.315},
{"p":"F","g":"G","x":120,"m":1.31,"lo":1.23,"hi":1.39},
{"p":"F","g":"G","x":125,"m":1.28,"lo":1.2,"hi":1.36},
{"p":"F","g":"G","x":130,"m":1.255,"lo":1.17,"hi":1.34},
{"p":"F","g":"G","x":135,"m":1.26,"lo":1.17,"hi":1.35},
{"p":"F","g":"G","x":140,"m":1.27,"lo":1.17,"hi":1.37},
{"p":"F","g":"G","x":145,"m":1.25,"lo":1.14,"hi":1.36},
{"p":"F","g":"G","x":150,"m":1.22,"lo":1.1,"hi":1.34}
]},
"columns": 2,
"spacing": {"row": 97, "column": 117},
"bounds": "flush",
"concat": [
{"width": 229, "height": 248, "title": {"text": "A", "dx": -71, "offset": -16.5},
 "data": {"name": "d"}, "transform": [{"filter": "datum.p === 'A'"}],
 "layer": [
  {"mark": {"type": "line", "strokeDash": [4, 3], "strokeWidth": 1.2},
   "encoding": {"x": {"field": "x", "type": "quantitative", "scale": {"domain": [-50, 150], "nice": false}, "axis": {"orient": "bottom", "values": [-50, 0, 50, 100, 150], "title": "Distance to Agg. Boundary"}},
     "y": {"field": "lo", "type": "quantitative", "scale": {"domain": [0, 18], "nice": false}, "axis": {"orient": "left", "values": [0, 5, 10, 15], "title": "Distance (µm)", "titlePadding": 8}},
     "color": {"field": "g", "type": "nominal", "scale": {"domain": ["P", "G"], "range": ["#6A2A8F", "#7FB545"]}, "legend": null}}},
  {"mark": {"type": "line", "strokeDash": [4, 3], "strokeWidth": 1.2},
   "encoding": {"x": {"field": "x", "type": "quantitative", "axis": {"orient": "top", "values": [-50, 0, 50, 100, 150], "labels": false, "title": null}},
     "y": {"field": "hi", "type": "quantitative", "axis": {"orient": "right", "values": [0, 5, 10, 15], "labels": false, "title": null}},
     "color": {"field": "g", "type": "nominal", "legend": null}}},
  {"mark": {"type": "line", "strokeWidth": 1.3},
   "encoding": {"x": {"field": "x", "type": "quantitative", "axis": null}, "y": {"field": "m", "type": "quantitative", "axis": null},
     "color": {"field": "g", "type": "nominal", "legend": null}}}
 ]},
{"width": 226, "height": 248, "title": {"text": "B", "dx": -70, "offset": -22},
 "data": {"name": "d"}, "transform": [{"filter": "datum.p === 'B'"}],
 "layer": [
  {"mark": {"type": "line", "strokeDash": [4, 3], "strokeWidth": 1.2},
   "encoding": {"x": {"field": "x", "type": "quantitative", "scale": {"domain": [-50, 150], "nice": false}, "axis": {"orient": "bottom", "values": [-50, 0, 50, 100, 150], "title": "Distance to Agg. Boundary", "titleX": 105}},
     "y": {"field": "lo", "type": "quantitative", "scale": {"domain": [0, 4], "nice": false}, "axis": {"orient": "left", "values": [0, 1, 2, 3, 4], "title": "Duration (min)", "titlePadding": 30}},
     "color": {"field": "g", "type": "nominal", "scale": {"domain": ["P", "G"], "range": ["#6A2A8F", "#7FB545"]}, "legend": null}}},
  {"mark": {"type": "line", "strokeDash": [4, 3], "strokeWidth": 1.2},
   "encoding": {"x": {"field": "x", "type": "quantitative", "axis": {"orient": "top", "values": [-50, 0, 50, 100, 150], "labels": false, "title": null}},
     "y": {"field": "hi", "type": "quantitative", "axis": {"orient": "right", "values": [0, 1, 2, 3, 4], "labels": false, "title": null}},
     "color": {"field": "g", "type": "nominal", "legend": null}}},
  {"mark": {"type": "line", "strokeWidth": 1.3},
   "encoding": {"x": {"field": "x", "type": "quantitative", "axis": null}, "y": {"field": "m", "type": "quantitative", "axis": null},
     "color": {"field": "g", "type": "nominal", "legend": null}}}
 ]},
{"width": 229, "height": 248, "title": {"text": "C", "dx": -69, "offset": -14.5},
 "data": {"name": "d"}, "transform": [{"filter": "datum.p === 'C'"}],
 "layer": [
  {"mark": {"type": "line", "strokeDash": [4, 3], "strokeWidth": 1.2},
   "encoding": {"x": {"field": "x", "type": "quantitative", "scale": {"domain": [-50, 150], "nice": false}, "axis": {"orient": "bottom", "values": [-50, 0, 50, 100, 150], "title": "Distance to Agg. Boundary"}},
     "y": {"field": "lo", "type": "quantitative", "scale": {"domain": [0, 5.25], "nice": false}, "axis": {"orient": "left", "values": [0, 1, 2, 3, 4, 5], "title": "Speed (µm/min)", "titlePadding": 20}},
     "color": {"field": "g", "type": "nominal", "scale": {"domain": ["P", "G"], "range": ["#6A2A8F", "#7FB545"]}, "legend": null}}},
  {"mark": {"type": "line", "strokeDash": [4, 3], "strokeWidth": 1.2},
   "encoding": {"x": {"field": "x", "type": "quantitative", "axis": {"orient": "top", "values": [-50, 0, 50, 100, 150], "labels": false, "title": null}},
     "y": {"field": "hi", "type": "quantitative", "axis": {"orient": "right", "values": [0, 1, 2, 3, 4, 5], "labels": false, "title": null}},
     "color": {"field": "g", "type": "nominal", "legend": null}}},
  {"mark": {"type": "line", "strokeWidth": 1.3},
   "encoding": {"x": {"field": "x", "type": "quantitative", "axis": null}, "y": {"field": "m", "type": "quantitative", "axis": null},
     "color": {"field": "g", "type": "nominal", "legend": null}}}
 ]},
{"width": 226, "height": 248, "title": {"text": "D", "dx": -79, "offset": -28.5},
 "data": {"name": "d"}, "transform": [{"filter": "datum.p === 'D'"}],
 "layer": [
  {"mark": {"type": "line", "strokeDash": [4, 3], "strokeWidth": 1.2},
   "encoding": {"x": {"field": "x", "type": "quantitative", "scale": {"domain": [-50, 150], "nice": false}, "axis": {"orient": "bottom", "values": [-50, 0, 50, 100, 150], "title": "Distance to Agg. Boundary", "titleX": 105}},
     "y": {"field": "lo", "type": "quantitative", "scale": {"domain": [0, 0.7], "nice": false}, "axis": {"orient": "left", "values": [0, 0.1, 0.3, 0.5, 0.7], "title": "P(non-persistent)", "titlePadding": 12}},
     "color": {"field": "g", "type": "nominal", "scale": {"domain": ["P", "G"], "range": ["#6A2A8F", "#7FB545"]}, "legend": null}}},
  {"mark": {"type": "line", "strokeDash": [4, 3], "strokeWidth": 1.2},
   "encoding": {"x": {"field": "x", "type": "quantitative", "axis": {"orient": "top", "values": [-50, 0, 50, 100, 150], "labels": false, "title": null}},
     "y": {"field": "hi", "type": "quantitative", "axis": {"orient": "right", "values": [0, 0.1, 0.3, 0.5, 0.7], "labels": false, "title": null}},
     "color": {"field": "g", "type": "nominal", "legend": null}}},
  {"mark": {"type": "line", "strokeWidth": 1.3},
   "encoding": {"x": {"field": "x", "type": "quantitative", "axis": null}, "y": {"field": "m", "type": "quantitative", "axis": null},
     "color": {"field": "g", "type": "nominal", "legend": null}}}
 ]},
{"width": 229, "height": 248, "title": {"text": "E", "dx": -69, "offset": -20.5},
 "data": {"name": "d"}, "transform": [{"filter": "datum.p === 'E'"}],
 "layer": [
  {"mark": {"type": "line", "strokeDash": [4, 3], "strokeWidth": 1.2},
   "encoding": {"x": {"field": "x", "type": "quantitative", "scale": {"domain": [-50, 150], "nice": false}, "axis": {"orient": "bottom", "values": [-50, 0, 50, 100, 150], "title": "Distance to Agg. Boundary"}},
     "y": {"field": "lo", "type": "quantitative", "scale": {"domain": [0, 8], "nice": false}, "axis": {"orient": "left", "values": [0, 2, 4, 6, 8], "title": "Duration (min)", "titlePadding": 20}},
     "color": {"field": "g", "type": "nominal", "scale": {"domain": ["P", "G"], "range": ["#6A2A8F", "#7FB545"]}, "legend": null}}},
  {"mark": {"type": "line", "strokeDash": [4, 3], "strokeWidth": 1.2},
   "encoding": {"x": {"field": "x", "type": "quantitative", "axis": {"orient": "top", "values": [-50, 0, 50, 100, 150], "labels": false, "title": null}},
     "y": {"field": "hi", "type": "quantitative", "axis": {"orient": "right", "values": [0, 2, 4, 6, 8], "labels": false, "title": null}},
     "color": {"field": "g", "type": "nominal", "legend": null}}},
  {"mark": {"type": "line", "strokeWidth": 1.3},
   "encoding": {"x": {"field": "x", "type": "quantitative", "axis": null}, "y": {"field": "m", "type": "quantitative", "axis": null},
     "color": {"field": "g", "type": "nominal", "legend": null}}}
 ]},
{"width": 226, "height": 248, "title": {"text": "F", "dx": -80, "offset": -14.5},
 "data": {"name": "d"}, "transform": [{"filter": "datum.p === 'F'"}],
 "layer": [
  {"mark": {"type": "line", "strokeDash": [4, 3], "strokeWidth": 1.2},
   "encoding": {"x": {"field": "x", "type": "quantitative", "scale": {"domain": [-50, 150], "nice": false}, "axis": {"orient": "bottom", "values": [-50, 0, 50, 100, 150], "title": "Distance to Agg. Boundary", "titleX": 105}},
     "y": {"field": "lo", "type": "quantitative", "scale": {"domain": [0, 2], "nice": false}, "axis": {"orient": "left", "values": [0, 0.5, 1, 1.5, 2], "title": "Speed (µm/min)", "titlePadding": 10}},
     "color": {"field": "g", "type": "nominal", "scale": {"domain": ["P", "G"], "range": ["#6A2A8F", "#7FB545"]}, "legend": null}}},
  {"mark": {"type": "line", "strokeDash": [4, 3], "strokeWidth": 1.2},
   "encoding": {"x": {"field": "x", "type": "quantitative", "axis": {"orient": "top", "values": [-50, 0, 50, 100, 150], "labels": false, "title": null}},
     "y": {"field": "hi", "type": "quantitative", "axis": {"orient": "right", "values": [0, 0.5, 1, 1.5, 2], "labels": false, "title": null}},
     "color": {"field": "g", "type": "nominal", "legend": null}}},
  {"mark": {"type": "line", "strokeWidth": 1.3},
   "encoding": {"x": {"field": "x", "type": "quantitative", "axis": null}, "y": {"field": "m", "type": "quantitative", "axis": null},
     "color": {"field": "g", "type": "nominal", "legend": null}}}
 ]}
]
}
